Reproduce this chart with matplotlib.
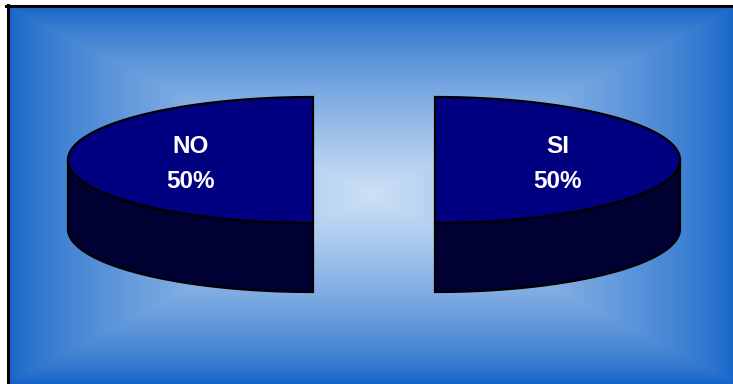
import numpy as np
import matplotlib
matplotlib.use("Agg")
import matplotlib.pyplot as plt
from matplotlib.patches import Polygon
from matplotlib.colors import to_rgb

# pie data
labels = ["NO", "SI"]
values = [50, 50]

W, H = 733, 384

fig = plt.figure(figsize=(W / 100, H / 100), dpi=100, facecolor="white")
ax = fig.add_axes([0, 0, 1, 1])
ax.set_xlim(0, W)
ax.set_ylim(H, 0)
ax.axis("off")

# rectangular "from centre" gradient background
x0, x1, y0, y1 = 9, W, 7, H
cx, cy = 372, 195
xs = np.linspace(x0, x1, 400)
ys = np.linspace(y0, y1, 300)
X, Y = np.meshgrid(xs, ys)
t = np.maximum(np.abs(X - cx) / (cx - x0), np.abs(Y - cy) / (cy - y0))
t = np.clip(t, 0, 1)
edge = np.array(to_rgb("#1565c8"))
mid = np.array(to_rgb("#cde1f6"))
f = (1 - t) ** 0.75
img = edge + (mid - edge) * f[..., None]
ax.imshow(img, extent=(x0, x1, y1, y0), aspect="auto", zorder=0, interpolation="bilinear")
ax.plot([7.5, 7.5], [5, H], color="black", lw=2.2, zorder=1)
ax.plot([6, W], [5.5, 5.5], color="black", lw=2.2, zorder=1)

# 3D pie geometry (pixels)
pcx, pcy = 374, 160
rx, ry = 245, 63
depth = 69
explode = 61

top_col = "#000080"
side_col = "#000033"


def ell(c, ang, dz=0):
    a = np.radians(ang)
    return np.column_stack([c[0] + rx * np.cos(a), c[1] - ry * np.sin(a) + dz])


fracs = np.array(values) / sum(values)
start = 90.0
for lab, v, fr in zip(labels, values, fracs):
    th1, th2 = start, start + 360 * fr
    start = th2
    m = np.radians((th1 + th2) / 2)
    c = (pcx + explode * np.cos(m), pcy - explode * np.sin(m) * ry / rx)

    # front wall is visible only for angles between 180 and 360
    for k in range(-1, 2):
        s, e = max(th1, 180 + 360 * k), min(th2, 360 + 360 * k)
        if e <= s:
            continue
        angs = np.linspace(s, e, 120)
        upper = ell(c, angs)
        lower = ell(c, angs[::-1], depth)
        ax.add_patch(Polygon(np.vstack([upper, lower]), closed=True,
                             facecolor=side_col, edgecolor="black", lw=1.6, zorder=2))

    angs = np.linspace(th1, th2, 240)
    top = np.vstack([[c], ell(c, angs)])
    ax.add_patch(Polygon(top, closed=True, facecolor=top_col,
                         edgecolor="black", lw=1.6, zorder=3))

    lx = c[0] + 0.5 * rx * np.cos(m)
    ly = c[1] - 0.5 * ry * np.sin(m)
    ax.text(lx, ly - 6.7, lab, color="white", fontsize=17.5, fontweight="bold",
            family="Liberation Sans", ha="center", va="baseline", zorder=4)
    ax.text(lx, ly + 28, f"{v}%", color="white", fontsize=17.5, fontweight="bold",
            family="Liberation Sans", ha="center", va="baseline", zorder=4)

fig.savefig("out.png", dpi=100, facecolor="white")
